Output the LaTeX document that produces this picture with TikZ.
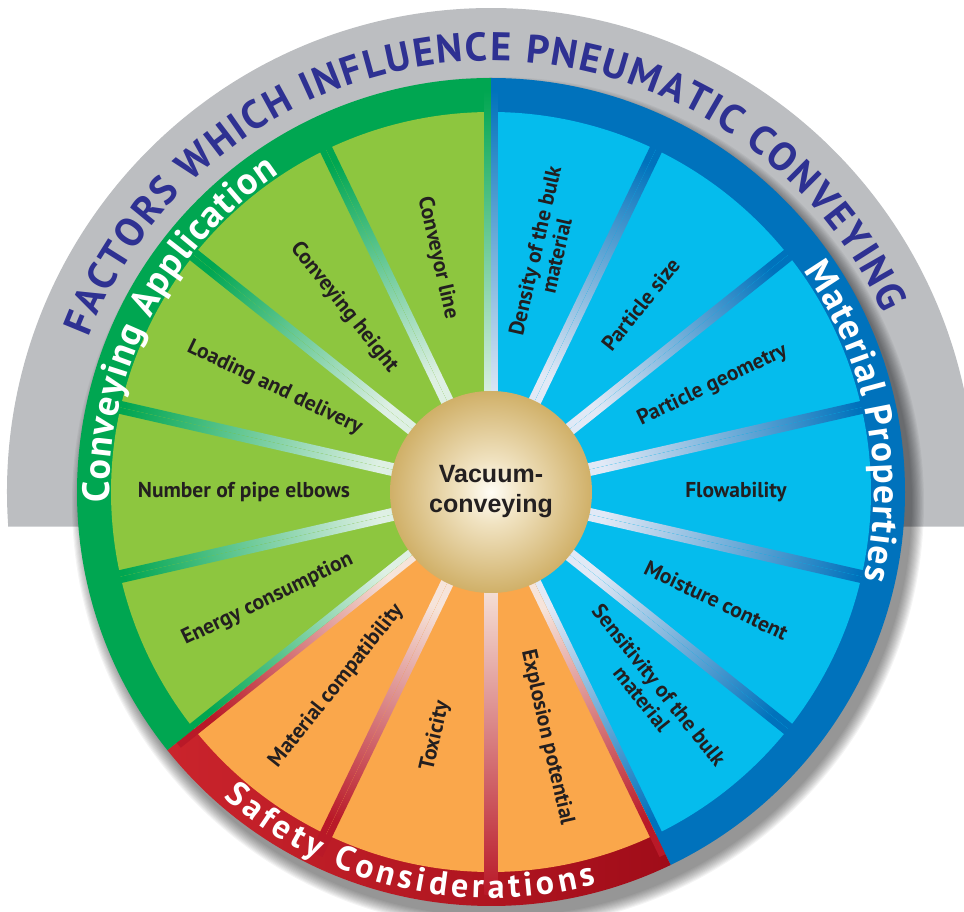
\documentclass[tikz,border=0pt]{standalone}
\usepackage{fontspec}
\setmainfont{PT Sans}
\newfontfamily\hubfont{Liberation Sans}
\usetikzlibrary{decorations.text}

\definecolor{cellGreen}{RGB}{141,198,63}
\definecolor{bandGreen}{RGB}{0,166,81}
\definecolor{spokeGreen}{RGB}{222,240,228}
\definecolor{cellBlue}{RGB}{5,188,237}
\definecolor{bandBlue}{RGB}{0,114,188}
\definecolor{spokeBlue}{RGB}{225,233,246}
\definecolor{cellRed}{RGB}{250,167,75}
\definecolor{bandRed}{RGB}{185,25,40}
\definecolor{bandRedL}{RGB}{202,36,44}
\definecolor{bandRedR}{RGB}{160,12,25}
\definecolor{spokeRed}{RGB}{246,228,218}
\definecolor{ringGrey}{RGB}{188,190,193}
\definecolor{titleBlue}{RGB}{46,49,146}
\definecolor{labelInk}{RGB}{35,31,32}
\definecolor{hubEdge}{RGB}{168,126,36}
\definecolor{hubDeep}{RGB}{186,148,62}
\definecolor{hubMid}{RGB}{208,176,104}
\definecolor{hubLight}{RGB}{240,226,192}
\definecolor{hubCore}{RGB}{255,253,245}

\pgfdeclareradialshading{hubShade}{\pgfpointorigin}{color(0bp)=(hubCore); color(8bp)=(hubLight); color(25bp)=(hubMid); color(40bp)=(hubDeep); color(50bp)=(hubEdge)}

\begin{document}
\begin{tikzpicture}[x=1pt, y=1pt]
        \tikzstyle{cellLabel} = [text=labelInk, align=center, inner sep=0pt,
            font=\fontsize{21.5}{22}\selectfont\bfseries]
        \tikzstyle{hub} = [circle, minimum size=202pt, shade, shading=hubShade,
            text=labelInk, align=center,
            font=\hubfont\fontsize{25}{30}\selectfont\bfseries]
        \tikzstyle{ringText} = [decorate, decoration={text along path,
            text align=fit to path}]
        \useasboundingbox (-491,-420) rectangle (473,492);

        % grey half ring and shadow
        \fill[ringGrey] (184.1:484) arc[start angle=184.1, end angle=-4.1, radius=484] -- cycle;
        \foreach \i in {0,...,11}
            \fill[black, opacity=0.045] (7,-11) circle (426-\i*1.1);

        % outer bands
        \fill[bandBlue] (0,0) -- (90:414) arc[start angle=90, end angle=-64.286, radius=414] -- cycle;
        \shade[left color=bandRedL, right color=bandRedR]
            (0,0) -- (-64.286:414) arc[start angle=-64.286, end angle=-141.43, radius=414] -- cycle;
        \fill[bandGreen] (0,0) -- (-141.43:414) arc[start angle=-141.43, end angle=-270, radius=414] -- cycle;

        % cells, spokes and labels
        \foreach \k/\grp/\txt/\rr in {
            0/Blue/{Density of the bulk\\material}/245,
            1/Blue/{Particle size}/240,
            2/Blue/{Particle geometry}/246,
            3/Blue/{Flowability}/245,
            4/Blue/{Moisture content}/250,
            5/Blue/{Sensitivity of the bulk\\material}/256,
            6/Red/{Explosion potential}/252,
            7/Red/{Toxicity}/250,
            8/Red/{Material compatibility}/248,
            9/Green/{Energy consumption}/248,
            10/Green/{Number of pipe elbows}/247,
            11/Green/{Loading and delivery}/240,
            12/Green/{Conveying height}/236,
            13/Green/{Conveyor line}/240}{
            \pgfmathsetmacro\aone{90-\k*360/14}
            \pgfmathsetmacro\atwo{\aone-360/14}
            \pgfmathsetmacro\amid{\aone-180/14}
            \pgfmathsetmacro\rot{ifthenelse(\amid>-90,\amid,\amid+180)}
            \fill[cell\grp] (0,0) -- (\aone:380) arc[start angle=\aone, end angle=\atwo, radius=380] -- cycle;
            \shade[rotate=\aone, bottom color=spoke\grp, top color=band\grp, shading angle=\aone-90]
                (90,-6.5) rectangle (402,0);
            \shade[rotate=\atwo, bottom color=spoke\grp, top color=band\grp, shading angle=\atwo-90]
                (90,0) rectangle (402,6.5);
            \node[cellLabel, rotate=\rot] (nodeCell\k) at (\amid:\rr) {\txt};
        }

        % ring titles
        \path[ringText, decoration={text color=white,
            text={|\fontsize{38}{38}\selectfont\bfseries|Conveying Application}}]
            (181.6:382) arc[start angle=181.6, end angle=123.6, radius=382];
        \path[ringText, decoration={text color=white,
            text={|\fontsize{37}{37}\selectfont\bfseries|Material Properties}}]
            (35.3:383) arc[start angle=35.3, end angle=-13.2, radius=383];
        \path[ringText, decoration={text color=white,
            text={|\fontsize{34}{34}\selectfont\bfseries|Safety Considerations}}]
            (228.8:406) arc[start angle=228.8, end angle=285, radius=406];
        \path[ringText, decoration={text color=titleBlue,
            text={|\fontsize{40}{40}\selectfont\bfseries|FACTORS WHICH INFLUENCE PNEUMATIC CONVEYING}}]
            (159:431) arc[start angle=159, end angle=24.5, radius=431];

        \node[hub] (nodeHub) at (0,0) {Vacuum-\\conveying};
\end{tikzpicture}
\end{document}
